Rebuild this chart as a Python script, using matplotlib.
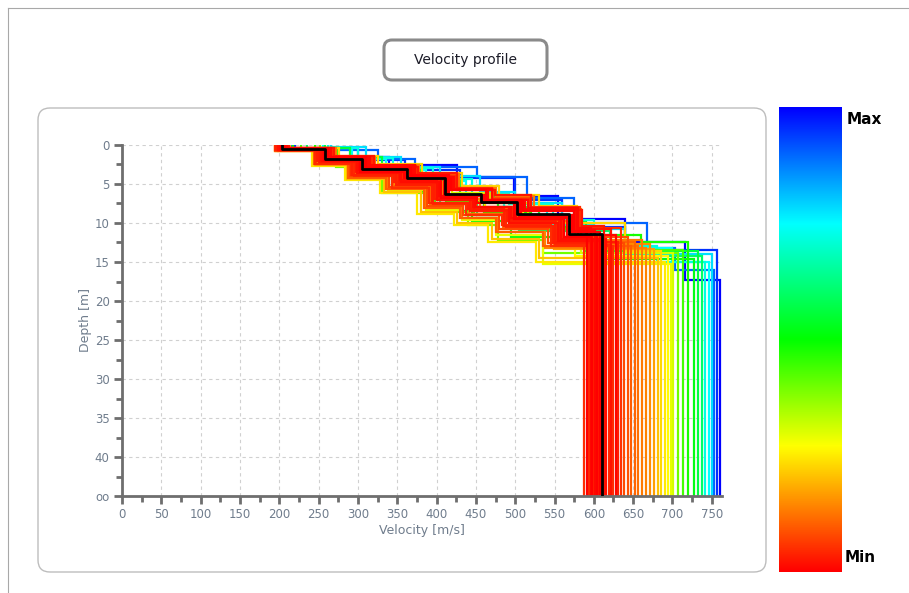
import numpy as np
import matplotlib.pyplot as plt
from matplotlib.colors import LinearSegmentedColormap, Normalize
from matplotlib.patches import FancyBboxPatch
from matplotlib.lines import Line2D
from matplotlib.transforms import IdentityTransform

W, H = 909, 593
BOTTOM = 45  # bottom of the depth axis, labelled "oo" (half-space)

# best model (black)
best_vel = [204, 258, 305, 362, 411, 457, 502, 568, 610]
best_bounds = [0.5, 1.8, 3.1, 4.2, 6.3, 7.3, 8.9, 11.4]

# low misfit models (red)
red_vel = [
    [200, 255, 300, 356, 405, 450, 496, 560, 588],
    [206, 262, 310, 368, 418, 463, 510, 575, 591],
    [198, 250, 296, 350, 398, 444, 490, 552, 594],
    [210, 266, 316, 372, 422, 470, 516, 580, 596],
    [202, 257, 303, 358, 406, 452, 498, 562, 598],
    [196, 248, 293, 346, 394, 440, 486, 548, 600],
    [208, 264, 313, 370, 420, 466, 512, 578, 602],
    [203, 259, 307, 363, 413, 459, 505, 570, 604],
    [199, 252, 298, 352, 401, 447, 493, 556, 606],
    [205, 261, 309, 366, 416, 461, 507, 572, 608],
    [198, 253, 299, 353, 400, 446, 492, 554, 611],
    [212, 270, 320, 376, 426, 474, 520, 585, 613],
    [201, 254, 301, 355, 403, 449, 495, 558, 616],
    [197, 249, 295, 348, 396, 442, 488, 550, 619],
    [207, 263, 312, 368, 419, 465, 511, 576, 622],
    [195, 246, 291, 343, 391, 437, 483, 545, 625],
    [204, 260, 306, 361, 410, 456, 501, 566, 628],
    [200, 251, 297, 349, 397, 443, 489, 551, 631],
    [209, 267, 318, 374, 424, 471, 518, 583, 634],
]
red_bounds = [
    [0.6, 2.0, 3.4, 4.6, 6.8, 7.9, 9.6, 12.1],
    [0.5, 1.5, 3.0, 4.4, 5.8, 7.2, 8.4, 11.0],
    [0.6, 2.3, 3.5, 5.1, 6.8, 8.5, 9.7, 12.4],
    [0.4, 1.6, 2.6, 4.1, 5.6, 7.0, 8.1, 10.7],
    [0.5, 1.9, 3.4, 4.2, 6.8, 7.5, 9.5, 11.8],
    [0.7, 2.0, 3.9, 4.8, 7.5, 8.2, 10.4, 12.6],
    [0.5, 1.8, 2.7, 4.2, 5.7, 7.1, 8.3, 10.9],
    [0.5, 1.7, 3.3, 4.1, 6.6, 7.2, 9.2, 11.5],
    [0.6, 2.2, 3.3, 4.9, 6.7, 8.3, 9.5, 12.2],
    [0.5, 1.8, 3.1, 3.9, 6.4, 7.0, 9.0, 11.2],
    [0.6, 1.9, 3.6, 4.5, 7.1, 7.9, 10.0, 12.3],
    [0.4, 1.4, 2.8, 3.6, 5.8, 6.4, 8.3, 10.4],
    [0.6, 2.1, 3.2, 4.8, 6.5, 8.0, 9.3, 12.0],
    [0.7, 2.0, 4.0, 4.9, 7.6, 8.4, 10.5, 12.8],
    [0.5, 1.7, 2.8, 4.1, 5.7, 7.2, 8.2, 10.8],
    [0.7, 2.4, 3.8, 5.5, 7.4, 9.0, 10.3, 13.0],
    [0.5, 1.6, 3.3, 4.1, 6.6, 7.3, 9.3, 11.6],
    [0.6, 2.2, 3.5, 5.1, 6.9, 8.5, 9.8, 12.5],
    [0.4, 1.7, 2.7, 4.0, 5.5, 6.9, 8.0, 10.6],
]
red_misfit = [0.050, 0.002, 0.046, 0.010, 0.004, 0.040, 0.012, 0.001, 0.030,
              0.003, 0.020, 0.025, 0.015, 0.044, 0.022, 0.048, 0.008, 0.035, 0.052]

# orange models
orange_vel = [
    [197, 247, 290, 340, 388, 434, 480, 542, 638],
    [211, 268, 318, 372, 423, 472, 520, 580, 643],
    [194, 244, 287, 336, 384, 430, 476, 536, 647],
    [203, 256, 302, 356, 404, 450, 496, 560, 652],
    [199, 250, 294, 344, 392, 438, 484, 546, 656],
    [213, 272, 322, 378, 428, 476, 524, 584, 661],
    [196, 245, 289, 338, 386, 432, 478, 538, 666],
    [205, 259, 305, 360, 408, 455, 502, 566, 671],
    [201, 252, 297, 347, 395, 441, 487, 549, 676],
]
orange_bounds = [
    [0.7, 2.4, 4.0, 5.4, 7.8, 9.0, 10.8, 12.6],
    [0.5, 1.6, 2.8, 3.9, 5.7, 6.8, 8.3, 11.8],
    [0.8, 2.5, 4.2, 5.7, 8.1, 9.4, 11.2, 13.0],
    [0.6, 2.0, 3.5, 4.8, 7.0, 8.3, 10.0, 12.4],
    [0.7, 2.3, 3.9, 5.3, 7.6, 8.9, 10.7, 12.9],
    [0.4, 1.5, 2.6, 3.7, 5.5, 6.6, 8.2, 12.2],
    [0.8, 2.5, 4.1, 5.6, 8.0, 9.3, 11.1, 13.2],
    [0.6, 2.0, 3.4, 4.7, 6.9, 8.1, 9.8, 12.7],
    [0.7, 2.3, 3.8, 5.2, 7.5, 8.8, 10.5, 13.3],
]
orange_misfit = [0.08, 0.09, 0.10, 0.11, 0.12, 0.13, 0.14, 0.15, 0.17]

# yellow models
yellow_vel = [
    [198, 246, 286, 333, 380, 426, 470, 530, 681],
    [214, 276, 326, 382, 432, 480, 530, 578, 640, 686],
    [195, 242, 283, 328, 375, 422, 466, 526, 690],
    [206, 262, 310, 364, 414, 462, 510, 576, 694],
    [200, 248, 290, 338, 386, 432, 476, 536, 698],
    [210, 268, 316, 370, 420, 468, 516, 584, 701],
]
yellow_bounds = [
    [0.8, 2.6, 4.4, 6.0, 8.6, 10.0, 12.0, 14.5],
    [0.4, 1.4, 2.5, 3.6, 5.3, 6.4, 7.8, 10.0, 13.6],
    [0.8, 2.7, 4.5, 6.2, 8.8, 10.3, 12.4, 15.0],
    [0.5, 1.9, 3.4, 4.8, 7.0, 8.2, 10.0, 14.2],
    [0.7, 2.5, 4.2, 5.8, 8.3, 9.6, 11.6, 15.3],
    [0.5, 1.7, 3.0, 4.2, 6.2, 7.4, 9.0, 13.9],
]
yellow_misfit = [0.21, 0.23, 0.25, 0.27, 0.29, 0.31]

# green models
green_vel = [
    [252, 272, 302, 330, 392, 440, 478, 536, 707],
    [228, 266, 305, 348, 398, 448, 500, 590, 713],
    [245, 275, 315, 360, 412, 460, 520, 600, 660, 720],
    [218, 262, 298, 340, 395, 445, 495, 610, 727],
    [258, 290, 330, 380, 430, 478, 530, 590, 733],
    [235, 270, 310, 355, 405, 452, 505, 620, 737],
]
green_bounds = [
    [0.5, 2.8, 4.3, 6.2, 8.6, 10.2, 12.2, 13.8],
    [0.5, 2.2, 4.0, 5.4, 7.6, 9.0, 10.8, 13.5],
    [0.4, 2.0, 3.6, 5.0, 7.2, 8.6, 10.5, 11.5, 12.4],
    [0.6, 2.4, 4.3, 5.9, 8.4, 9.8, 11.8, 14.6],
    [0.4, 1.6, 3.2, 4.6, 6.6, 8.0, 9.9, 13.6],
    [0.5, 2.1, 3.8, 5.3, 7.5, 9.0, 11.0, 14.2],
]
green_misfit = [0.40, 0.44, 0.48, 0.52, 0.56, 0.60]

# cyan models
cyan_vel = [
    [262, 300, 345, 395, 445, 492, 548, 600, 680, 742],
    [256, 292, 336, 386, 438, 486, 540, 600, 700, 746],
    [266, 310, 355, 405, 455, 500, 560, 640, 750],
]
cyan_bounds = [
    [0.4, 1.7, 3.0, 4.3, 6.3, 7.6, 9.6, 13.0, 15.0],
    [0.4, 1.8, 3.2, 4.6, 6.5, 7.9, 10.2, 13.2, 15.0],
    [0.3, 1.6, 2.8, 4.0, 6.0, 7.4, 10.8, 14.0],
]
cyan_misfit = [0.72, 0.75, 0.78]

# high misfit models (blue)
blue_vel = [
    [215, 326, 373, 452, 515, 575, 668, 703, 753],
    [220, 300, 360, 430, 500, 560, 640, 757],
    [205, 262, 340, 426, 498, 555, 640, 716, 761],
]
blue_bounds = [
    [0.6, 1.8, 2.8, 4.1, 6.8, 10.0, 13.2, 16.0],
    [0.5, 1.9, 3.2, 4.2, 7.0, 10.5, 13.5],
    [0.5, 1.6, 2.6, 4.1, 6.6, 9.5, 12.5, 17.3],
]
blue_misfit = [0.90, 0.95, 1.00]

x_ticks = list(range(0, 751, 50))
y_ticks = list(range(0, 46, 5))
y_ticklabels = [str(t) for t in y_ticks[:-1]] + ["oo"]


def step_xy(vel, bounds):
    tops = [0] + list(bounds)
    bots = list(bounds) + [BOTTOM]
    xs, ys = [], []
    for v, t, b in zip(vel, tops, bots):
        xs += [v, v]
        ys += [t, b]
    return xs, ys


cmap = LinearSegmentedColormap.from_list(
    "misfit", [(0, "#ff0000"), (0.27, "#ffff00"), (0.5, "#00ff00"),
               (0.75, "#00ffff"), (1, "#0000ff")])

all_vel = red_vel + orange_vel + yellow_vel + green_vel + cyan_vel + blue_vel
all_bounds = red_bounds + orange_bounds + yellow_bounds + green_bounds + cyan_bounds + blue_bounds
all_misfit = red_misfit + orange_misfit + yellow_misfit + green_misfit + cyan_misfit + blue_misfit
norm = Normalize(min(all_misfit), max(all_misfit))

fig = plt.figure(figsize=(W / 100, H / 100), dpi=100)
ax = fig.add_axes([122 / W, 1 - 496 / H, 600 / W, 351 / H])
ax.set_facecolor("none")

# worst first, best on top
for i in np.argsort(all_misfit)[::-1]:
    xs, ys = step_xy(all_vel[i], all_bounds[i])
    ax.plot(xs, ys, color=cmap(norm(all_misfit[i])), lw=1.6,
            solid_joinstyle="miter", zorder=2)
xs, ys = step_xy(best_vel, best_bounds)
ax.plot(xs, ys, color="black", lw=2.0, zorder=3)

ax.set_xlim(0, 763)
ax.set_ylim(BOTTOM, 0)
ax.set_xticks(x_ticks)
ax.set_xticks(np.arange(25, 763, 50), minor=True)
ax.set_yticks(y_ticks)
ax.set_yticklabels(y_ticklabels)
ax.set_yticks(np.arange(2.5, 45, 5), minor=True)

axis_col = "#6e6e6e"
label_col = "#6f7c8c"
for s in ["top", "right"]:
    ax.spines[s].set_visible(False)
for s in ["left", "bottom"]:
    ax.spines[s].set_color(axis_col)
    ax.spines[s].set_linewidth(2)
ax.tick_params(which="major", length=6, width=2, color=axis_col,
               labelsize=8.5, labelcolor=label_col, pad=3)
ax.tick_params(which="minor", length=4, width=2, color=axis_col)
ax.grid(True, which="major", color="#d0d0d0", ls=(0, (3, 3)), lw=0.8)
ax.set_axisbelow(True)
ax.set_xlabel("Velocity [m/s]", fontsize=9, color=label_col, labelpad=2)
ax.set_ylabel("Depth [m]", fontsize=9, color=label_col, labelpad=2)

# frames (pixel coordinates)
px = IdentityTransform()
fig.add_artist(FancyBboxPatch((38, H - 572), 728, 464,
                              boxstyle="round,pad=0,rounding_size=12",
                              transform=px, fc="none", ec="#bdbdbd", lw=1))
fig.add_artist(FancyBboxPatch((384, H - 80), 163, 40,
                              boxstyle="round,pad=0,rounding_size=8",
                              transform=px, fc="white", ec="#8a8a8a", lw=2.2))
fig.text(465.5 / W, 1 - 60 / H, "Velocity profile", ha="center", va="center",
         fontsize=10, color="#1c1c28")
fig.add_artist(Line2D([8 / W, 1], [1 - 8 / H] * 2, transform=fig.transFigure,
                      color="#a8a8a8", lw=0.8))
fig.add_artist(Line2D([8 / W] * 2, [0, 1 - 8 / H], transform=fig.transFigure,
                      color="#a8a8a8", lw=0.8))

# colour scale
cax = fig.add_axes([779 / W, 1 - 572 / H, 63 / W, 465 / H])
cax.imshow(np.linspace(0, 1, 256).reshape(-1, 1), aspect="auto", cmap=cmap,
           origin="lower")
cax.axis("off")
fig.text(847 / W, 1 - 120 / H, "Max", fontsize=11, fontweight="bold", va="center")
fig.text(845 / W, 1 - 558 / H, "Min", fontsize=11, fontweight="bold", va="center")

fig.savefig("out.png", dpi=100)
